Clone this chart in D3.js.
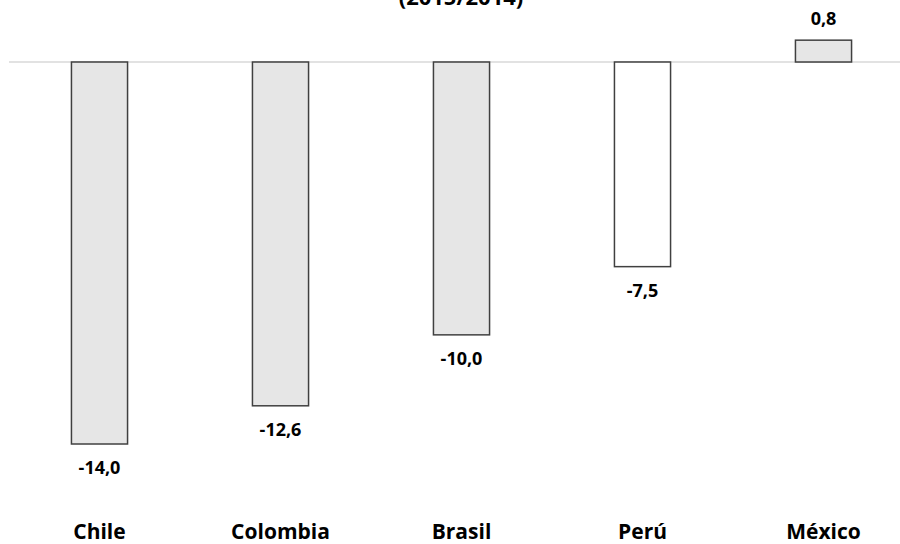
<!DOCTYPE html>
<html>
<head>
<meta charset="utf-8">
<script src="https://cdn.jsdelivr.net/npm/d3@7"></script>
<style>
  body { margin: 0; background: #fff; }
  text { font-family: "Open Sans", "Liberation Sans", sans-serif; font-weight: bold; fill: #000; }
</style>
</head>
<body>
<svg class="chart" width="900" height="544"></svg>
<script>
const countries = ["Chile", "Colombia", "Brasil", "Perú", "México"]
const values = [-14.0, -12.6, -10.0, -7.5, 0.8]
const fills = ["#e6e6e6", "#e6e6e6", "#e6e6e6", "#ffffff", "#e6e6e6"]
const title = "(2015/2014)"

const svg = d3.select("svg.chart")

const x = d3.scaleBand()
  .domain(countries)
  .range([9, 914])
  .paddingInner(0.69)
  .paddingOuter(0.345)

const y = d3.scaleLinear()
  .domain([-14, 0])
  .range([444, 62])

const fmt = v => d3.format(".1f")(v).replace("−", "-").replace(".", ",")

// title, mostly cut off at the top like the original
svg.append("text")
  .attr("x", 461)
  .attr("y", 5)
  .attr("text-anchor", "middle")
  .style("font-size", "22px")
  .text(title)

// zero line
svg.append("line")
  .attr("x1", 9)
  .attr("x2", 900)
  .attr("y1", y(0))
  .attr("y2", y(0))
  .attr("stroke", "#d9d9d9")
  .attr("stroke-width", 1.5)

svg.selectAll("rect.bar")
  .data(values)
  .enter()
  .append("rect")
  .attr("class", "bar")
  .attr("x", (d, i) => x(countries[i]))
  .attr("y", d => y(Math.max(0, d)))
  .attr("width", x.bandwidth())
  .attr("height", d => Math.abs(y(d) - y(0)))
  .attr("fill", (d, i) => fills[i])
  .attr("stroke", "#404040")
  .attr("stroke-width", 1.5)

svg.selectAll("text.val")
  .data(values)
  .enter()
  .append("text")
  .attr("class", "val")
  .attr("x", (d, i) => x(countries[i]) + x.bandwidth() / 2)
  .attr("y", d => d < 0 ? y(d) + 24 : y(d) - 21)
  .attr("dy", "0.35em")
  .attr("text-anchor", "middle")
  .style("font-size", "18px")
  .text(d => fmt(d))

svg.selectAll("text.cat")
  .data(countries)
  .enter()
  .append("text")
  .attr("class", "cat")
  .attr("x", d => x(d) + x.bandwidth() / 2)
  .attr("y", 532)
  .attr("dy", "0.35em")
  .attr("text-anchor", "middle")
  .style("font-size", "21px")
  .text(d => d)
</script>
</body>
</html>
